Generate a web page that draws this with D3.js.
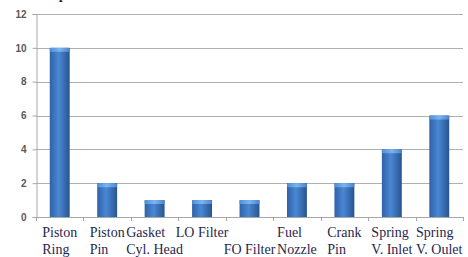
<!DOCTYPE html>
<html>
<head>
<meta charset="utf-8">
<script src="https://cdn.jsdelivr.net/npm/d3@7"></script>
<style>
  body { margin: 0; background: #fff; }
  svg { display: block; }
</style>
</head>
<body>
<script>
// categories (two lines each, as in the original labels)
var partLines = [
  ["Piston", "Ring"],
  ["Piston", "Pin"],
  ["Gasket", "Cyl. Head"],
  ["LO Filter", ""],
  ["", "FO Filter"],
  ["Fuel", "Nozzle"],
  ["Crank", "Pin"],
  ["Spring", "V. Inlet"],
  ["Spring", "V. Oulet"]
];
var partCounts = [10, 2, 1, 1, 1, 2, 2, 4, 6];
var yTicks = [0, 2, 4, 6, 8, 10, 12];

var W = 468, H = 257;
var plotLeft = 36, plotRight = 463, plotTop = 14, plotBottom = 217;

var parts = [];
for (var i = 0; i < partCounts.length; i++) {
  parts.push({ id: i, lines: partLines[i], count: partCounts[i] });
}

var svg = d3.select("body").append("svg")
  .attr("width", W)
  .attr("height", H);

var defs = svg.append("defs");
var grad = defs.append("linearGradient")
  .attr("id", "barGrad")
  .attr("x1", "0%").attr("x2", "100%").attr("y1", "0%").attr("y2", "0%");
grad.append("stop").attr("offset", "0%").attr("stop-color", "#2f62a8");
grad.append("stop").attr("offset", "45%").attr("stop-color", "#4a88d4");
grad.append("stop").attr("offset", "100%").attr("stop-color", "#27548f");

var capGrad = defs.append("linearGradient")
  .attr("id", "capGrad")
  .attr("x1", "0%").attr("x2", "100%").attr("y1", "0%").attr("y2", "0%");
capGrad.append("stop").attr("offset", "0%").attr("stop-color", "#4f8fd8");
capGrad.append("stop").attr("offset", "50%").attr("stop-color", "#7db4ee");
capGrad.append("stop").attr("offset", "100%").attr("stop-color", "#4a86cc");

var x = d3.scaleBand()
  .domain(parts.map(function (d) { return d.id; }))
  .range([plotLeft, plotRight])
  .paddingInner(0.58)
  .paddingOuter(0.29);

// band edges for the tick marks (no padding)
var xEdge = d3.scaleBand()
  .domain(parts.map(function (d) { return d.id; }))
  .range([plotLeft, plotRight]);

var y = d3.scaleLinear()
  .domain([0, 12])
  .range([plotBottom, plotTop]);

// clipped title fragment at the very top
svg.append("text")
  .attr("x", 59)
  .attr("y", -1)
  .style("font-family", "Liberation Serif, serif")
  .style("font-size", "13px")
  .style("font-weight", "bold")
  .style("fill", "#222")
  .text("p");

// gridlines
svg.selectAll("line.grid")
  .data(yTicks.filter(function (t) { return t > 0; }))
  .enter()
  .append("line")
    .attr("class", "grid")
    .attr("x1", plotLeft)
    .attr("x2", plotRight)
    .attr("y1", function (d) { return Math.round(y(d)) + 0.5; })
    .attr("y2", function (d) { return Math.round(y(d)) + 0.5; })
    .style("stroke", "#b0b0b0")
    .style("stroke-width", 1.2);

// y axis
var yAxis = d3.axisLeft(y)
  .tickValues(yTicks)
  .tickSize(4)
  .tickPadding(6);

var gy = svg.append("g")
  .attr("transform", "translate(" + (plotLeft + 0.5) + ",0)")
  .call(yAxis);
gy.select(".domain").style("stroke", "#a8a8a8");
gy.selectAll(".tick line").style("stroke", "#a8a8a8");
gy.selectAll(".tick text")
  .style("font-family", "Liberation Sans, Arial, sans-serif")
  .style("font-size", "10px")
  .style("font-weight", "bold")
  .style("fill", "#595959");

// x axis baseline and ticks
svg.append("line")
  .attr("x1", plotLeft)
  .attr("x2", plotRight)
  .attr("y1", plotBottom + 0.5)
  .attr("y2", plotBottom + 0.5)
  .style("stroke", "#a8a8a8")
  .style("stroke-width", 1.2);

var edges = parts.map(function (d) { return xEdge(d.id); }).concat([plotRight]);
svg.selectAll("line.xtick")
  .data(edges)
  .enter()
  .append("line")
    .attr("class", "xtick")
    .attr("x1", function (d) { return Math.round(d) + 0.5; })
    .attr("x2", function (d) { return Math.round(d) + 0.5; })
    .attr("y1", plotBottom)
    .attr("y2", plotBottom + 4)
    .style("stroke", "#a8a8a8");

// bars
var bars = svg.selectAll("g.bar")
  .data(parts)
  .enter()
  .append("g")
    .attr("class", "bar");

bars.append("rect")
  .attr("x", function (d) { return x(d.id); })
  .attr("y", function (d) { return y(d.count); })
  .attr("width", x.bandwidth())
  .attr("height", function (d) { return y(0) - y(d.count); })
  .style("fill", "url(#barGrad)");

bars.append("rect")
  .attr("x", function (d) { return x(d.id); })
  .attr("y", function (d) { return y(d.count); })
  .attr("width", x.bandwidth())
  .attr("height", 4)
  .attr("rx", 1.5)
  .style("fill", "url(#capGrad)");

// category labels: block centred in the band, lines left aligned
var labels = svg.selectAll("text.cat")
  .data(parts)
  .enter()
  .append("text")
    .attr("class", "cat")
    .style("font-family", "Liberation Serif, 'Times New Roman', serif")
    .style("font-size", "14px")
    .style("fill", "#2a1f4e");

labels.each(function (d) {
  var t = d3.select(this);
  t.selectAll("tspan")
    .data(d.lines)
    .enter()
    .append("tspan")
      .attr("y", function (l, j) { return 237 + j * 17; })
      .text(function (l) { return l; });
  var maxW = 0;
  t.selectAll("tspan").each(function () {
    maxW = Math.max(maxW, this.getComputedTextLength());
  });
  var cx = xEdge(d.id) + xEdge.bandwidth() / 2;
  t.selectAll("tspan").attr("x", cx - maxW / 2);
});
</script>
</body>
</html>
